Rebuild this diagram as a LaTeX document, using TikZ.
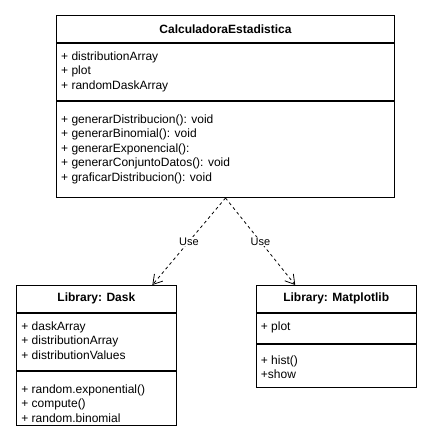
\documentclass[tikz,border=0pt]{standalone}
\usepackage{fontspec}
\setmainfont{Liberation Sans}
\usetikzlibrary{arrows.meta}
\begin{document}
\begin{tikzpicture}[x=1pt,y=-1pt,
  comp/.style={draw, line width=1pt, rectangle, inner sep=0pt, anchor=north west},
  ctitle/.style={comp, font=\fontsize{12}{14.4}\selectfont\bfseries},
  txt/.style={anchor=north west, inner sep=0pt, align=left, font=\fontsize{12}{14.4}\selectfont},
  usearrow/.style={draw, line width=0.8pt, dash pattern=on 3pt off 3pt, -{Straight Barb[length=9pt,width=11pt]}},
  lbl/.style={fill=white, inner sep=1pt, font=\fontsize{11}{13}\selectfont}]
\path[fill=white] (0,0) rectangle (431,442);
\useasboundingbox (0,0) rectangle (431,442);

% CalculadoraEstadistica
\node[ctitle, minimum width=338pt, minimum height=27pt] (cT) at (56,15) {CalculadoraEstadistica};
\node[comp, minimum width=338pt, minimum height=57pt] (cA) at (cT.south west) {};
\node[comp, minimum width=338pt, minimum height=96pt] (cO) at (cA.south west) {};
\node[txt] (cAt) at ([xshift=5pt,yshift=-7.2pt]cA.north west) {\strut + distributionArray\\+ plot\\+ randomDaskArray};
\node[txt] (cOt) at ([xshift=5pt,yshift=-12.2pt]cO.north west) {\strut + generarDistribucion(): void\\+ generarBinomial(): void\\+ generarExponencial():\\+ generarConjuntoDatos(): void\\+ graficarDistribucion(): void};

% Library: Dask
\node[ctitle, minimum width=160.3pt, minimum height=26.5pt] (dT) at (15.7,285) {Library: Dask};
\node[comp, minimum width=160.3pt, minimum height=57.5pt] (dA) at (dT.south west) {};
\node[comp, minimum width=160.3pt, minimum height=54pt] (dO) at (dA.south west) {};
\node[txt] (dAt) at ([xshift=5.5pt,yshift=-7.7pt]dA.north west) {\strut + daskArray\\+ distributionArray\\+ distributionValues};
\node[txt] (dOt) at ([xshift=5.5pt,yshift=-12.2pt]dO.north west) {\strut + random.exponential()\\+ compute()\\+ random.binomial};

% Library: Matplotlib
\node[ctitle, minimum width=160pt, minimum height=26.5pt] (mT) at (255.7,285) {Library: Matplotlib};
\node[comp, minimum width=160pt, minimum height=30pt] (mA) at (mT.south west) {};
\node[comp, minimum width=160pt, minimum height=43.5pt] (mO) at (mA.south west) {};
\node[txt] (mAt) at ([xshift=5pt,yshift=-7.7pt]mA.north west) {\strut + plot};
\node[txt] (mOt) at ([xshift=5pt,yshift=-10.7pt]mO.north west) {\strut + hist()\\+show};

% dependencies
\draw[usearrow] (cO.south) -- node[lbl] (u1) {Use} ([xshift=56pt]dT.north);
\draw[usearrow] (cO.south) -- node[lbl] (u2) {Use} ([xshift=-41pt]mT.north);
\end{tikzpicture}
\end{document}
